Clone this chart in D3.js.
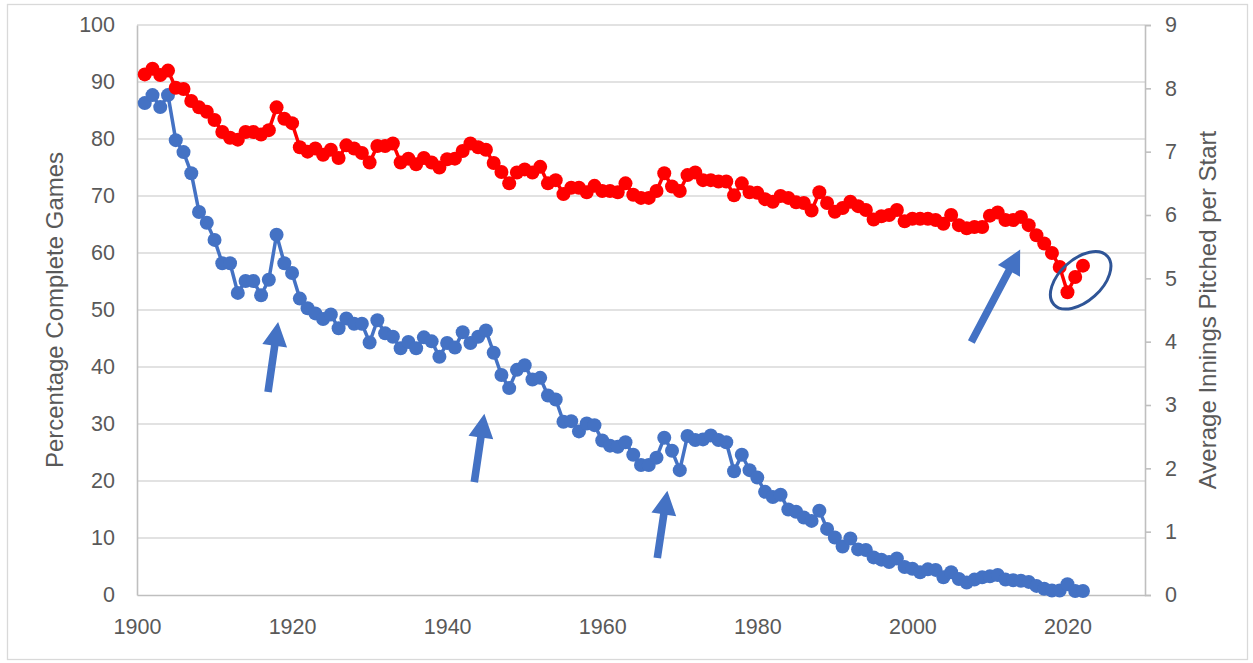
<!DOCTYPE html>
<html>
<head>
<meta charset="utf-8">
<script src="https://cdn.jsdelivr.net/npm/d3@7"></script>
<style>
  html, body { margin: 0; padding: 0; background: #fff; }
  svg { display: block; }
  text { font-family: "Liberation Sans", Arial, sans-serif; fill: #595959; }
</style>
</head>
<body>
<svg id="chart" width="1253" height="663"></svg>
<script>
// ---- data ----
const years = d3.range(1901, 2023);
const completeGamePct = [
  86.3, 87.7, 85.6, 87.7, 79.8, 77.7, 74.0, 67.2, 65.3, 62.3,
  58.2, 58.2, 53.0, 55.1, 55.1, 52.6, 55.3, 63.2, 58.2, 56.5,
  52.0, 50.3, 49.4, 48.4, 49.2, 46.8, 48.5, 47.6, 47.6, 44.3,
  48.2, 45.9, 45.3, 43.3, 44.4, 43.3, 45.2, 44.5, 41.8, 44.2,
  43.4, 46.1, 44.2, 45.3, 46.4, 42.5, 38.6, 36.3, 39.5, 40.3,
  37.8, 38.1, 35.0, 34.3, 30.4, 30.5, 28.7, 30.1, 29.8, 27.1,
  26.2, 26.0, 26.8, 24.6, 22.8, 22.8, 24.1, 27.6, 25.3, 21.9,
  27.9, 27.2, 27.3, 28.0, 27.2, 26.8, 21.7, 24.6, 21.9, 20.6,
  18.1, 17.2, 17.6, 15.0, 14.6, 13.6, 13.0, 14.8, 11.6, 10.1,
  8.5, 9.9, 8.0, 7.9, 6.6, 6.2, 5.8, 6.4, 4.9, 4.6,
  4.0, 4.5, 4.4, 3.1, 4.0, 2.8, 2.2, 2.7, 3.1, 3.3,
  3.5, 2.7, 2.6, 2.5, 2.3, 1.6, 1.1, 0.8, 0.8, 1.9,
  0.7, 0.7
];
const inningsPerStart = [
  8.22, 8.31, 8.21, 8.28, 8.01, 7.99, 7.80, 7.70, 7.63, 7.50,
  7.31, 7.22, 7.19, 7.31, 7.31, 7.27, 7.34, 7.70, 7.52, 7.45,
  7.07, 7.00, 7.05, 6.95, 7.03, 6.90, 7.10, 7.05, 6.98, 6.83,
  7.09, 7.09, 7.13, 6.83, 6.89, 6.80, 6.90, 6.83, 6.75, 6.88,
  6.89, 7.01, 7.13, 7.07, 7.03, 6.82, 6.68, 6.50, 6.67, 6.72,
  6.67, 6.76, 6.50, 6.55, 6.33, 6.43, 6.43, 6.36, 6.46, 6.38,
  6.38, 6.36, 6.50, 6.32, 6.27, 6.27, 6.38, 6.66, 6.45, 6.38,
  6.63, 6.67, 6.55, 6.55, 6.53, 6.53, 6.31, 6.50, 6.36, 6.35,
  6.25, 6.21, 6.30, 6.27, 6.20, 6.19, 6.07, 6.36, 6.19, 6.05,
  6.11, 6.21, 6.14, 6.08, 5.93, 5.98, 6.00, 6.08, 5.90, 5.94,
  5.94, 5.94, 5.92, 5.86, 6.00, 5.84, 5.79, 5.81, 5.81, 5.99,
  6.04, 5.92, 5.92, 5.97, 5.84, 5.68, 5.55, 5.40, 5.18, 4.78,
  5.02, 5.20
];
const xTicks = [1900, 1920, 1940, 1960, 1980, 2000, 2020];
const leftTicks = [0, 10, 20, 30, 40, 50, 60, 70, 80, 90, 100];
const rightTicks = [0, 1, 2, 3, 4, 5, 6, 7, 8, 9];
const leftTitle = "Percentage Complete Games";
const rightTitle = "Average Innings Pitched per Start";
// annotation arrows: [tailYear, tailPct, tipYear, tipPct]
const arrows = [
  [1916.9, 35.6, 1918.2, 47.9],
  [1943.5, 19.8, 1944.8, 31.8],
  [1967.1, 6.5, 1968.4, 18.3],
  [2007.6, 44.4, 2013.9, 60.6]
];
// highlight ellipse centre [year, pct]
const ellipseCenter = [2021.7, 55.2];

// ---- layout ----
const svg = d3.select("#chart");
const L = 137, R = 1145, T = 25, B = 595;
const x = d3.scaleLinear().domain([1900, 2030]).range([L, R]);
const yL = d3.scaleLinear().domain([0, 100]).range([B, T]);
const yR = d3.scaleLinear().domain([0, 9]).range([B, T]);

// outer border
svg.append("rect").attr("x", 7.5).attr("y", 4.5).attr("width", 1240).attr("height", 655)
  .attr("fill", "#fff").attr("stroke", "#d9d9d9").attr("stroke-width", 1.3);

// gridlines
svg.append("g").selectAll("line").data(leftTicks.filter(d => d > 0)).join("line")
  .attr("x1", L).attr("x2", R).attr("y1", d => yL(d)).attr("y2", d => yL(d))
  .attr("stroke", "#d9d9d9").attr("stroke-width", 1.4);

// left axis
const gL = svg.append("g").attr("transform", `translate(${L},0)`)
  .call(d3.axisLeft(yL).tickValues(leftTicks).tickSize(0).tickPadding(22));
gL.select(".domain").attr("stroke", "#bfbfbf").attr("stroke-width", 1.6);
gL.selectAll("text").style("font-size", "21.5px").attr("fill", "#595959")
  .style("font-family", "'Liberation Sans', Arial, sans-serif");

// right axis
const gR = svg.append("g").attr("transform", `translate(${R},0)`)
  .call(d3.axisRight(yR).tickValues(rightTicks).tickSize(6).tickPadding(14));
gR.select(".domain").attr("stroke", "#bfbfbf").attr("stroke-width", 1.6);
gR.selectAll("line").attr("stroke", "#bfbfbf").attr("stroke-width", 1.6);
gR.selectAll("text").style("font-size", "21.5px").attr("fill", "#595959")
  .style("font-family", "'Liberation Sans', Arial, sans-serif");

// bottom axis
const gB = svg.append("g").attr("transform", `translate(0,${B})`)
  .call(d3.axisBottom(x).tickValues(xTicks).tickFormat(d3.format("d")).tickSize(0).tickPadding(24));
gB.select(".domain").attr("stroke", "#bfbfbf").attr("stroke-width", 1.6);
gB.selectAll("text").style("font-size", "21.5px").attr("fill", "#595959")
  .style("font-family", "'Liberation Sans', Arial, sans-serif");

// axis titles
svg.append("text").attr("transform", `translate(63,${(T + B) / 2}) rotate(-90)`)
  .attr("text-anchor", "middle").style("font-size", "24px").text(leftTitle);
svg.append("text").attr("transform", `translate(1199,${(T + B) / 2}) rotate(-90)`)
  .attr("text-anchor", "middle").attr("dy", "0.7em").style("font-size", "24px").text(rightTitle);

// series
const blueData = years.map((yr, i) => [yr, completeGamePct[i]]);
const redData = years.map((yr, i) => [yr, inningsPerStart[i]]);

function drawSeries(data, yScale, color) {
  svg.append("path").datum(data)
    .attr("fill", "none").attr("stroke", color).attr("stroke-width", 3.5)
    .attr("stroke-linejoin", "round")
    .attr("d", d3.line().x(d => x(d[0])).y(d => yScale(d[1])));
  svg.append("g").selectAll("circle").data(data).join("circle")
    .attr("cx", d => x(d[0])).attr("cy", d => yScale(d[1])).attr("r", 7)
    .attr("fill", color);
}
drawSeries(blueData, yL, "#4472C4");
drawSeries(redData, yR, "#FF0000");

// arrows
function arrowPath(x0, y0, x1, y1) {
  const dx = x1 - x0, dy = y1 - y0, len = Math.hypot(dx, dy);
  const ux = dx / len, uy = dy / len, px = -uy, py = ux;
  const sw = 3.8, hw = 12.5, hl = 24;
  const bx = x1 - ux * hl, by = y1 - uy * hl;
  const pts = [
    [x0 + px * sw, y0 + py * sw], [bx + px * sw, by + py * sw], [bx + px * hw, by + py * hw],
    [x1, y1], [bx - px * hw, by - py * hw], [bx - px * sw, by - py * sw], [x0 - px * sw, y0 - py * sw]
  ];
  return "M" + pts.map(p => p.join(",")).join("L") + "Z";
}
svg.append("g").selectAll("path").data(arrows).join("path")
  .attr("d", a => arrowPath(x(a[0]), yL(a[1]), x(a[2]), yL(a[3])))
  .attr("fill", "#4472C4");

// ellipse
svg.append("ellipse")
  .attr("transform", `translate(${x(ellipseCenter[0])},${yL(ellipseCenter[1])}) rotate(-42)`)
  .attr("rx", 36).attr("ry", 21)
  .attr("fill", "none").attr("stroke", "#2F5597").attr("stroke-width", 3);
</script>
</body>
</html>
